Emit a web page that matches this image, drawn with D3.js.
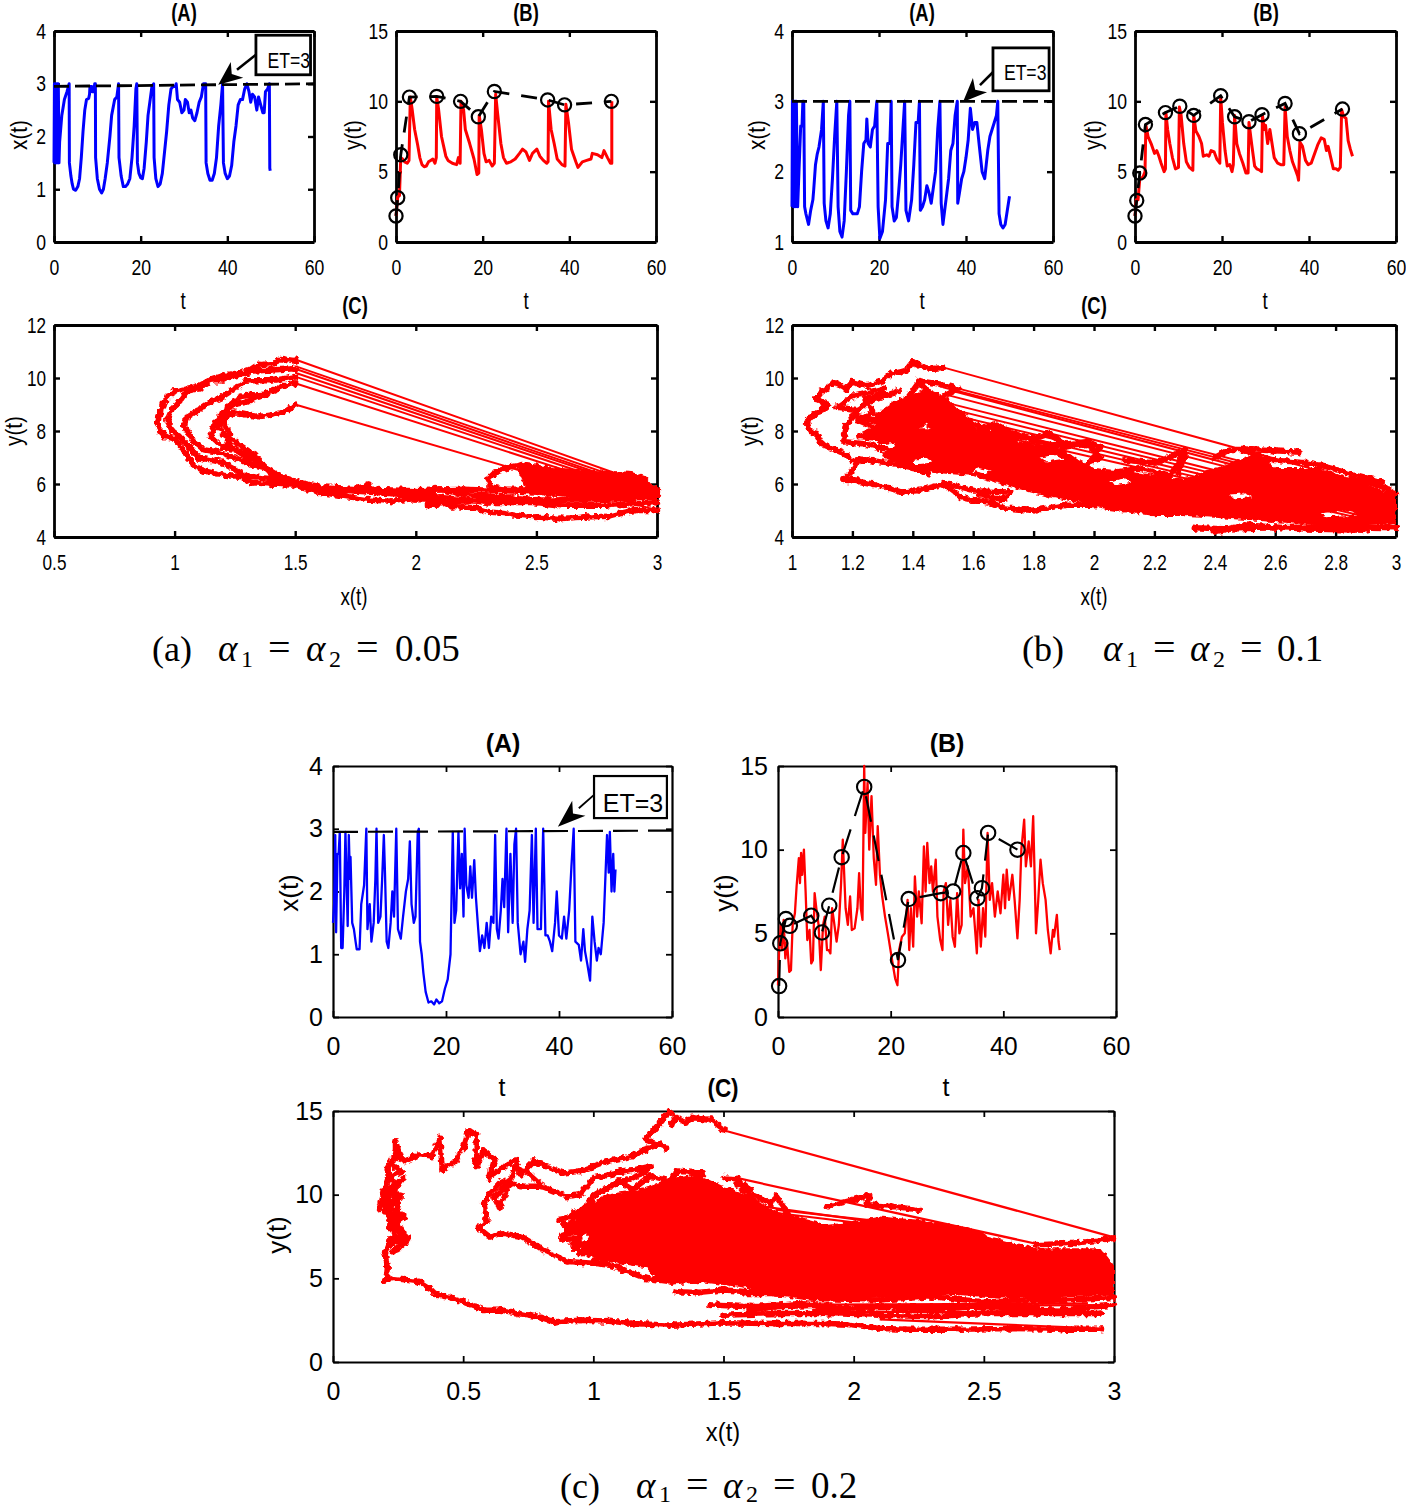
<!DOCTYPE html>
<html><head><meta charset="utf-8">
<script src="https://cdn.jsdelivr.net/npm/d3@7"></script>
<style>html,body{margin:0;padding:0;background:#fff}svg{display:block}</style>
</head><body><svg id="c" width="1406" height="1509"></svg>
<script>
// ---------- data: panel (a), alpha = 0.05 ----------
const aXT=[0,1.5,.1,3,.2,1.5,.3,3,.45,1.6,.55,3,.7,1.5,.8,3,.9,1.55,1,3,1.15,1.5,1.3,1.9,1.8,2.4,2.4,2.7,3,2.85,3.5,3,3.55,1.5,3.9,1.25,4.2,1.1,4.5,1,5,.98,5.5,1.05,5.9,1.2,6.3,1.6,6.7,2.1,7.1,2.5,7.5,2.7,8,2.72,8.2,2.8,8.3,2.95,8.7,2.95,8.8,2.85,9.2,2.85,9.4,3,9.55,3,9.6,1.6,10,1.2,10.5,1,11,.93,11.4,1,11.8,1.2,12.3,1.5,12.9,2,13.3,2.4,14,2.7,14.5,2.75,14.9,3,15,1.6,15.5,1.25,16,1.05,16.5,1.05,17,1.1,17.5,1.2,18,1.6,18.5,2.2,18.9,2.9,19.1,3,19.25,1.5,19.6,1.3,20,1.22,20.4,1.2,20.8,1.4,21.3,1.9,21.7,2.4,22.2,2.7,22.6,2.95,23,3,23.1,1.6,23.5,1.2,24,1.05,24.5,1.1,25,1.3,25.5,1.7,26,2.1,26.5,2.6,27,2.9,27.5,2.95,28,2.95,28.2,3,28.5,2.7,29,2.65,29.5,2.45,30,2.5,30.3,2.7,30.8,2.65,31.2,2.45,31.6,2.5,32,2.35,32.5,2.3,33,2.45,33.5,2.65,34,2.75,34.5,3,35,3,35.1,1.5,35.5,1.3,36,1.17,36.5,1.17,37,1.3,37.5,1.6,38,2.2,38.5,2.6,38.9,3,39.1,1.5,39.5,1.3,40,1.2,40.5,1.25,41,1.45,41.5,1.9,42,2.2,42.5,2.6,43,2.7,43.5,2.7,44,2.9,44.5,3,45,2.85,45.4,2.65,45.8,2.8,46.3,2.75,46.8,2.5,47.2,2.75,47.7,2.6,48.2,2.45,48.5,2.45,48.8,2.85,49.3,2.9,49.7,3,49.8,1.4,49.9,1.35];
const aYT=[0,1.85,.4,3.2,.8,3.3,1.1,6,1.5,5.9,2,5.7,2.6,5.6,3,5.8,3.3,10.3,3.7,9.5,4.3,8,5,6.9,5.5,6,6,5.5,6.5,5.35,7,5.4,7.5,5.7,8,5.8,8.5,5.9,9,5.6,9.3,6,9.4,10.3,9.8,9.5,10.5,7.5,11,6.8,11.5,6.1,12,5.8,13,5.6,14,5.5,14.4,6,14.8,5.6,15,10,15.6,9.4,16,8,17,7,18,5.9,18.7,4.8,19.1,4.9,19.2,9,19.7,8,20.3,6.3,20.8,5.7,21.5,5.8,22.2,5.4,22.7,5.6,23,10.5,23.5,9,24.2,7,24.8,6,25.5,5.6,26.5,5.7,27.5,5.9,28.5,6.3,29.2,6.6,30,6.4,30.8,5.8,31.5,6.3,32.5,6.6,33.2,6.1,34,5.8,34.8,5.6,35.1,5.7,35.2,10,35.8,8,36.5,7,37.2,5.9,38.3,5.5,39,5.4,39.2,9.8,39.8,8.5,40.5,6.6,41.5,5.7,42,5.3,43,5.7,44,5.8,45,5.9,45.3,6.3,46.5,6.2,47.5,6,48,6.5,48.8,6,49.5,5.6,49.8,5.6,49.8,10];
const aEvents=[0,1.85,.4,3.15,1.1,6.2,3.1,10.3,9.4,10.35,14.9,10,19,8.9,22.7,10.7,35,10.1,38.9,9.75,49.7,10];
const aEt=[0,2.95,60,3];
const aJumps=[[1.5,10.7,3,5.85],[1.5,10.45,3,5.75],[1.5,10.35,3,5.65],[1.5,10.2,3,5.6],[1.5,10.05,3,5.5],[1.5,9.8,3,5.4],[1.5,9,3,5]];
const aArcs=[
[1.5,10.65,1.45,10.72,1.41,10.55,1.35,10.5,1.3,10.2,1.25,10.1,1.2,10.1,1.15,9.95,1.1,9.7,1.05,9.6,1,9.5,.97,9.3,.95,9,.94,8.7,.93,8.3,.94,8,.96,7.8,1,7.7,1.02,7.5,1.04,7.2,1.06,7,1.08,6.7,1.12,6.5,1.17,6.4,1.22,6.3,1.27,6.3,1.32,6.05,1.4,6,1.5,5.95,1.6,5.7,1.7,5.55,1.8,5.4,1.9,5.35,2,5.45,2.1,5.4,2.15,5.15,2.25,5.1,2.3,4.95,2.4,4.85,2.5,4.75,2.6,4.7,2.7,4.75,2.8,4.78,2.85,4.9,2.9,5,3,5],
[1.5,10.35,1.4,10.3,1.3,10.25,1.25,10.15,1.2,9.9,1.15,9.9,1.1,9.6,1.05,9.5,1.02,9.1,.99,8.8,.97,8.4,.99,8,1.02,7.8,1.06,7.4,1.1,7,1.15,6.9,1.2,6.8,1.3,6.3,1.4,6.2,1.5,6,1.6,5.8,1.7,5.7,1.8,5.95,1.85,5.7,1.95,5.6,2,5.6,2.1,5.8,2.2,5.6,2.4,5.5,2.5,5.4,2.7,5.4,2.9,5.45,3,5.6],
[1.5,10.05,1.4,9.9,1.3,9.9,1.25,9.6,1.2,9.3,1.15,9.1,1.1,8.8,1.05,8.5,1.04,8.2,1.06,7.9,1.08,7.6,1.12,7.3,1.18,7.2,1.25,7,1.3,6.8,1.38,6.6,1.45,6.2,1.55,5.95,1.65,5.8,1.8,5.7,1.95,5.6,2.1,5.5,2.3,5.3,2.5,5.3,2.7,5.5,2.9,5.6,3,5.7],
[1.5,9.8,1.45,9.7,1.4,9.5,1.35,9.3,1.3,9.1,1.25,9,1.2,8.7,1.17,8.3,1.15,7.8,1.2,7.4,1.25,7.3,1.3,7.1,1.35,6.9,1.4,6.4,1.5,6.1,1.6,5.9,1.8,5.8,2,5.75,2.2,5.8,2.5,5.7,2.7,5.7,3,5.8],
[1.5,9,1.45,8.7,1.4,8.6,1.35,8.55,1.3,8.6,1.25,8.7,1.21,8.55,1.21,8.2,1.23,7.9,1.22,7.5,1.25,7.3,1.3,7,1.34,6.9,1.38,6.6],
[1.38,9.4,1.32,9.35,1.27,9.3,1.22,8.9,1.21,8.5,1.18,8.2,1.2,7.9,1.25,7.6,1.33,7.1],
[2.08,5.85,2.05,5.2,2.2,5.35,2.35,5.45,2.6,5.2,2.8,5.2,3,5.3],
[2.44,6.72,2.38,6.62,2.33,6.45,2.3,6.2,2.31,5.9,2.36,5.8,2.44,5.8,2.5,5.8,2.55,5.6]
];
const aBlobs=[[2.42,6.55,2.45,6.8,2.6,6.6,2.8,6.5,2.9,6.45,2.95,6.3,2.98,6,3,5.7,3,5.4,2.8,5.4,2.5,5.6,2.45,5.9,2.44,6.15]];
const aHoles=[];
// ---------- data: panel (b), alpha = 0.1 ----------
const bXT=[0,1.5,.1,3,.3,1.5,.4,3,.6,1.5,.7,3,.9,1.5,1,3,1.3,1.5,1.6,2,2,2.65,2.3,2.65,2.5,3,2.7,3,2.9,1.5,3.2,1.4,3.8,1.25,4.3,1.45,4.8,1.6,5,1.75,5.4,2.1,5.8,2.25,6.2,2.35,6.8,2.6,7.2,3,7.4,1.55,7.8,1.3,8.3,1.2,8.8,1.4,9.3,1.9,9.8,2.5,10.3,3,10.6,1.5,11,1.15,11.5,1.07,12,1.3,12.5,2,13,2.8,13.3,3,13.5,1.45,14,1.4,15,1.4,15.5,1.5,16,2,16.5,2.4,17,2.45,17.2,2.75,17.5,2.4,18,2.35,18.5,2.6,19,2.65,19.5,3,19.8,1.5,20.2,1.05,20.8,1.15,21.5,1.6,22,2.4,22.5,2.4,22.8,3,23,1.5,23.5,1.3,24,1.35,24.5,1.7,25,2.1,25.5,2.6,25.9,3,26.2,1.45,26.8,1.3,27.5,1.6,28,2.1,28.5,2.7,29,2.7,29.3,3,29.5,1.45,30,1.5,30.5,1.6,31,1.8,31.5,1.7,32,1.55,33,2,33.5,2.6,34,3,34.3,1.55,34.7,1.25,35.2,1.5,36,1.9,36.5,2.3,37,2.4,37.5,2.8,38,3,38.1,1.55,38.5,1.7,39,1.9,39.5,2,40,2.2,40.5,2.45,41,2.9,41.5,2.6,42,2.7,42.5,2.7,43,2.4,43.7,2,44.3,1.9,45,2.3,45.5,2.5,46,2.6,46.5,2.7,47,2.8,47.3,3,47.6,1.4,48,1.25,48.5,1.2,49,1.25,49.5,1.45,50,1.65];
const bYT=[0,1.85,.3,3,.7,3,1.1,4.5,1.8,4.6,2.3,5,2.5,8.3,3,7.5,3.7,7,4.5,6.3,5,6.5,5.5,6.1,6,5.6,6.7,5,7,5.2,7.1,9.2,7.5,8,8,7,8.6,6,9.3,5.2,10,5.3,10.2,9.6,10.6,9,11.2,7,11.8,5.7,12.5,5.3,13.3,5.1,13.5,9,14,7.9,14.7,7.5,15.3,7,15.7,6.1,16.5,6.2,17,6.1,17.5,6.5,18.2,6.4,18.8,5.9,19.5,5.6,19.7,10.3,20.1,8.5,20.7,6.5,21.2,5.4,21.8,5.5,22.3,5,22.6,5.5,22.9,9,23.4,7,24,6.3,24.8,5.6,25.5,4.9,26,4.9,26.2,8.5,26.8,7,27.5,5.4,28,5.2,28.7,5.1,29.1,5,29.3,9,29.7,8,30,8.3,30.5,7,31,8,31.5,7,32,6,32.8,5.6,33.5,5.5,34.2,5.5,34.5,9.6,35,7.5,35.6,6.5,36.2,5.7,36.8,5.2,37.4,4.7,37.6,4.4,37.9,7.1,38.5,6.8,39.2,5.8,39.8,5.5,40.5,5.6,41.3,6.3,42,6.9,42.8,7.4,43.5,7.3,44,6.5,44.4,6.8,45,6,45.6,5.2,46.2,5.2,46.7,5.1,47.2,5.3,47.5,9.4,48,8.9,48.5,8.8,49,7.2,49.5,6.6,50,6.1];
const bEvents=[0,1.85,.4,2.95,1.1,4.9,2.4,8.35,7,9.2,10.3,9.65,13.5,9,19.7,10.4,22.9,8.9,26.2,8.55,29.2,9.05,34.5,9.85,37.8,7.7,47.7,9.45];
const bEt=[0,3,60,3];
const bJumps=[[1.5,10.4,3,5.7],[1.5,9.75,3,5.35],[1.5,9.65,3,5.25],[1.52,9.55,3,5.1],[1.5,9.4,3,5],[1.5,9.1,3,4.8],[1.5,8.9,3,4.7],[1.5,8.7,3,4.6],[1.5,8.5,3,4.5],[1.5,8.3,3,4.4]];
const bArcs=[
[1.5,10.4,1.47,10.35,1.44,10.4,1.4,10.6,1.38,10.3,1.35,10.2,1.33,10.2,1.3,9.9,1.25,9.7,1.2,9.85,1.18,9.6,1.14,9.8,1.1,9.5,1.08,9.2,1.12,9,1.1,8.8,1.06,8.5,1.05,8.3,1.06,8,1.08,7.9,1.1,7.5,1.14,7.3,1.18,7.1,1.2,6.9,1.25,6.9,1.32,6.8,1.4,6.6,1.45,6.4],
[1.22,6.9,1.2,6.5,1.17,6.15,1.22,6.1,1.27,6,1.32,5.85,1.36,5.7,1.42,5.75,1.5,6,1.56,5.5,1.6,5.4,1.66,5.3,1.7,5.1,1.8,5,1.9,5.2,2,5.2,2.1,5.05,2.2,4.9,2.3,4.9],
[1.3,9.6,1.2,9.3,1.15,8.9,1.22,8.8,1.18,8.2,1.17,7.6,1.25,7.5,1.35,7.2],
[1.35,9.5,1.25,9.1,1.2,8.6,1.3,8.3,1.26,7.8,1.35,7.8,1.32,8.4],
[1.3,9.4,1.24,9.2,1.27,8.7,1.22,8.4,1.28,8.1,1.22,7.8,1.3,7.7],
[1.42,9.9,1.5,9.75,1.55,9.6,1.5,9.3],
[1.38,9.2,1.42,9.85,1.45,9.5],
[1.62,8.15,1.68,8.25,1.72,8,1.8,7.7,1.85,7.9,1.9,7.5],
[1.9,7.5,1.98,7.6,2.02,7.4,2,7],
[2.1,6.9,2.2,6.8,2.25,7,2.3,7.3,2.28,6.8],
[2.5,7.3,2.55,7,2.6,6.9,2.7,6.8,2.75,6.7,2.85,6.4,2.95,6.1],
[2.68,7.2,2.6,7.25,2.5,7.3,2.45,7.3,2.4,7],
[2.33,4.35,2.45,4.3,2.6,4.35,2.8,4.4,3,4.35],
[2.4,4.2,2.5,4.45,2.7,4.3,2.9,4.25],
[1.55,8.7,1.65,7.9,1.68,8.2,1.72,7.8,1.75,7.8,1.8,7.6,1.9,7.4,1.98,7.5,2.02,7,1.98,6.8],
[1.7,6.5,1.85,6.7,1.95,6.2,2.15,6.6,2.25,6.3,2.3,7.1,2.28,6.4],
[2.85,6.2,2.95,5.95,3,5.6],
[1.52,6,1.6,5.75,1.72,5.7,1.7,5.4,1.62,5.6]
];
const bBlobs=[[1.27,8.6,1.35,9.2,1.45,9.6,1.52,9.2,1.58,8.4,1.62,8,1.72,8.1,1.75,7.6,1.9,7.3,1.95,6.9,2,6.6,2.1,6.5,2.3,6.2,2.45,6.8,2.55,7.2,2.6,6.6,2.75,6.6,2.85,6.2,3,5.6,3,4.5,2.8,4.4,2.55,4.6,2.3,4.8,2.15,5,2,5.2,1.85,5.5,1.75,5.8,1.6,6.3,1.5,6.4,1.4,6.6,1.3,7,1.28,7.8]];
const bHoles=[[1.29,7.5,1.34,7.55,1.33,7.25,1.3,7.2],[1.62,6.6,1.66,6.5,1.64,6.4,1.6,6.5],[2.05,6.1,2.1,6.2,2.12,6.05,2.07,5.95],[1.4,6.9,1.45,7,1.46,6.8,1.41,6.75],[1.42,8.1,1.44,8.25,1.46,8.1],[1.82,7,1.88,7.1,1.9,6.95,1.84,6.85],[2.45,5.6,2.5,5.65,2.52,5.5,2.46,5.45],[2.75,4.9,2.85,5,2.87,4.85,2.77,4.78]];
// ---------- data: panel (c), alpha = 0.2 ----------
const cXT=[0,1.5,.2,1.8,.4,2.9,.55,1.35,.8,2.6,1,2.6,1.2,2.95,1.45,1.1,1.7,1.1,2,2,2.2,2.95,2.6,1.45,2.8,2.9,3,2.2,3.1,2.55,3.4,1.5,3.7,1.4,4,1.2,4.2,1.08,4.7,1.08,5,1.8,5.5,2.1,5.9,3,6.1,1.4,6.5,1.8,6.8,1.2,7.2,1.5,7.5,2.2,7.7,3,8,1.5,8.4,1.6,8.7,2.2,9,2.9,9.2,2.3,9.5,1.2,9.8,1.1,10.2,1.5,10.5,2,10.8,1.6,11.2,3,11.5,1.4,12,1.25,12.4,1.6,12.9,2,13.3,2.2,13.6,2.8,13.9,1.8,14.3,1.5,14.6,1.6,15,2.95,15.2,3,15.4,1.2,15.7,1,16,.7,16.4,.4,16.9,.23,17.4,.25,17.9,.2,18.3,.28,18.8,.22,19.3,.25,19.8,.45,20.3,.6,20.8,1,21,2,21.2,2.95,21.5,1.5,21.8,1.7,22.2,2.95,22.5,2.05,22.8,2.6,23.1,1.6,23.3,3,23.6,2.1,24,1.9,24.3,2.4,24.6,1.9,25,2.5,25.3,1.9,25.7,1.4,26,1.05,26.4,1.3,26.8,1.1,27.2,1.5,27.6,1.1,28,1.6,28.4,1.5,28.7,2.9,29,1.4,29.3,1.25,29.7,1.7,30,2.2,30.3,1.75,30.7,3,31,1.35,31.4,2.6,31.8,1.5,32.1,2.75,32.4,3,32.7,1.5,33.2,1,33.7,1.2,34,.88,34.4,1.4,34.8,1.7,35.2,2.9,35.5,1.5,35.9,3,36.2,1.4,36.8,1.4,37.2,3,37.6,1.3,38,1.3,38.4,1.2,38.8,1.05,39.3,1.5,39.6,2,40,1.3,40.5,1.25,40.9,1.6,41.3,1.25,41.8,1.7,42.2,2.4,42.6,3,42.9,1.2,43.5,1.15,43.9,.9,44.3,1.4,44.6,1.05,45,.85,45.5,.58,45.9,1.6,46.3,1.2,46.7,.9,47,1.1,47.4,1,47.9,1.5,48.5,2.9,48.8,2.3,49,2.95,49.3,2,49.6,2.6,49.8,2,50,2.35];
const cYT=[0,1.9,.2,4,.5,5.5,.7,4,1,5.8,1.3,3.5,1.6,4.5,2,2.7,2.3,2.8,2.6,5.5,3,6.2,3.3,7.8,3.7,9.5,3.9,8,4.1,9.8,4.3,8.5,4.6,10,4.9,7.5,5.2,4.6,5.6,5.2,5.9,3.2,6.2,3.4,6.5,7.4,6.8,6.5,7.2,5.5,7.6,2.8,8,5.5,8.3,6,8.7,4,9,4,9.3,3.8,9.6,6.5,9.9,5.8,10.4,4.5,10.8,5.5,11.2,8,11.5,10.6,12,6.5,12.4,5.5,12.8,7.2,13.1,5.2,13.6,5.3,14.1,6.5,14.4,8.6,14.7,6.5,15,5.8,15.3,15,15.5,11,15.9,14,16.2,10,16.6,13.2,17,9.5,17.4,7.9,17.7,11.4,18.1,8.5,18.5,7.2,19,6,19.5,5,20.2,3.5,20.8,2.3,21.2,1.9,21.5,4,22,4.8,22.5,5,23,7,23.3,4,23.6,6.5,24,4.2,24.3,8.4,24.7,6,25,7.5,25.5,5.6,25.9,10.2,26.2,7.5,26.5,10.4,26.9,8,27.2,9,27.5,7.5,28,9.4,28.3,6,28.8,4.6,29.2,4,29.4,7.5,29.8,8,30.2,5.5,30.6,7,31,4.8,31.4,4.2,31.8,7.4,32.2,5,32.6,5.5,32.9,11.2,33.2,8,33.7,9,34.2,6,34.7,6.5,35.3,3.8,35.6,7,36,4.2,36.4,6.5,36.8,4.8,37.2,11,37.6,7,38,8,38.5,6,39,7.5,39.5,6.2,40,8.5,40.3,6.5,40.6,8.8,41,7,41.6,8.5,42,7,42.5,4.7,42.9,7,43.2,10,43.7,11.8,44,9,44.5,10.5,44.9,9,45.3,12,45.8,5,46.2,7,46.6,9.4,47,8,47.5,7,47.9,5.2,48.4,3.8,48.8,5.2,49,4.8,49.5,6.1,49.8,4.5,50,4];
const cEvents=[.2,1.85,.4,4.4,1.4,5.85,2.1,5.45,5.9,6.05,7.8,5.05,9.1,6.65,11.3,9.55,15.3,13.75,21.3,3.4,23.2,7.05,28.9,7.4,31.1,7.5,32.9,9.8,35.4,7.1,36.2,7.7,37.3,11,42.5,10];
const cEt=[0,2.95,60,2.97];
const cJumps=[[1.5,13.85,3,7.45],[1.55,11,2.75,6.9],[1.6,9.4,2.3,7.9],[1.6,9.1,2.5,7.4],[1.7,9.1,2.4,7.9],[2,3.35,3,3.4],[1.9,3,2.95,3],[2.1,2.55,2.95,2],[2.5,3.6,3,4.2],[1.5,3.4,2.9,3.5]];
const cArcs=[
[2.95,1.95,2.8,1.95,2.6,2,2.4,1.95,2.2,1.95,2.1,2,1.98,2.25,1.9,2.3,1.8,2.3,1.7,2.3,1.5,2.35,1.3,2.2,1.15,2.3,1.05,2.45,.95,2.5,.85,2.4,.8,2.65,.72,2.9,.65,3.1,.58,3.1,.55,3.3,.5,3.6,.45,3.85,.4,4,.37,4.4,.33,4.8,.28,4.9,.22,5,.2,4.85,.21,5.5,.2,6.5,.22,7.3,.28,7.2,.25,6.8,.27,7.7,.24,8.5,.25,9.5,.24,10.5,.2,9.8,.18,9.2,.2,10.4,.22,11,.21,11.5,.24,12.5,.24,13.2,.26,12.2,.28,12,.33,12.4,.38,12.3,.41,13.4,.42,11.5,.47,12,.5,12.8,.52,13.8,.55,13.6,.55,11.7,.58,12.6,.62,12.1,.6,11,.65,11.6,.7,12.1,.72,11.2,.77,12,.82,11.7,.88,11.3,.95,11.4,1,11.7,1.05,12,1.15,12.3,1.2,12.7,1.25,13,1.28,12.8,1.2,13.3,1.25,14.2,1.29,14.95,1.35,14.3,1.38,14.6,1.45,14.5,1.5,13.9],
[1.3,14.2,1.32,14.6],
[.22,8,.27,8.6,.2,9,.26,10,.22,10.2,.27,11,.2,9.5,.24,7.5,.29,7.4,.23,6.6],
[.22,7,.27,7.6,.22,8.2,.27,8.8,.2,9.4,.26,9.8,.19,10.2,.25,10.6,.21,11,.26,11.4,.22,11.9,.25,12.3],
[1.22,11.7,1.1,11.3,1,11,.95,10,.9,9.9,.8,10.5,.72,10.5,.65,10.8,.6,10,.58,9.5,.59,8.5,.56,8,.6,7.5,.65,7.7,.72,7.5,.78,7,.82,6.6,.9,6,1,5.9,1.1,5.7],
[.68,10.9,.62,9.8,.64,9.2,.7,11.6,.75,11.3,.8,10.6],
[1.05,5.9,1.1,5.6,1.2,5,1.3,4.8,1.4,4.9],
[1.32,4.2,1.4,4.15,1.5,4.3,1.6,4.2,1.7,4.5],
[1.45,3.4,1.6,3.3,1.8,3.5,2,3.2,2.2,3.3,2.4,3.3,2.6,3.2,2.8,3.1,3,3.4],
[1.5,2.8,1.7,2.9,1.9,2.9,2.1,2.8,2.3,2.7,2.5,2.9,2.7,2.9,2.95,2.9],
[1.6,3.1,1.7,3.3,1.9,3.4,1.85,3,2.1,3.3,2.3,3.05,2.5,3.4,2.7,3.3],
[1.58,4.1,1.7,4.1,1.85,3.8,2.1,3.7,2.3,3.9,2.5,3.6,2.8,3.7,3,3.85],
[2.7,7,2.85,7.1,2.95,7.3,3,7.4],
[1.9,9.3,2,9.7,2.06,9.95,2.05,9.4,2.15,9.3,2.25,9.1],
[1.5,11,1.55,10.95,1.6,10.3],
[.87,8.5,.95,8.9,.9,8.1,.97,8.2,.88,7.6,.96,7.8,.92,7,1,7.1,.95,6.5,1.05,6.4,1,6],
[1,9.9,1.1,10.8,1.15,10.3,1.22,11.1,1.3,10.8,1.32,11.4,1.42,11.3,1.4,10.9],
[.97,9.3,.93,8.9,1,9.5],
[1.55,10.6,1.6,10.1,1.68,9.5,1.7,9.9,1.75,8.9],
[.88,8.5,.9,7.8,.88,7.3,.95,7.4,.93,6.7,1,6.5,1.05,5.9],
[.95,8.8,1,9.9,1.05,10.4,1.2,11.3,1.21,11.6,1.1,11.4],
[2.3,8.2,2.4,8,2.5,7.5]
];
const cBlobs=[[.93,8.3,.98,9.4,1.05,10,1.2,10.4,1.3,11,1.4,11.2,1.5,10.5,1.6,10,1.7,9,1.8,8.6,1.9,8.2,2,8.4,2.1,8.7,2.25,8.5,2.4,8,2.5,7.6,2.7,6.8,2.95,6.8,3,5.8,3,4,2.8,3.9,2.6,3.8,2.4,4,2,3.8,1.7,3.9,1.6,4.4,1.4,4.8,1.25,4.9,1.2,5.6,1.1,5.9,1,6.2,.95,6.7,.98,7.5]];
const cHoles=[];
// ---------- labels ----------
const tTicks=[0,20,40,60];
const xTicks04=[0,1,2,3,4];
const xTicks14=[1,2,3,4];
const yTicks15=[0,5,10,15];
const phaseXa=[.5,1,1.5,2,2.5,3];
const phaseXb=[1,1.2,1.4,1.6,1.8,2,2.2,2.4,2.6,2.8,3];
const phaseYa=[4,6,8,10,12];
const phaseYc=[0,5,10,15];
const phaseXc=[0,.5,1,1.5,2,2.5,3];
const titleA="(A)", titleB="(B)", titleC="(C)", etLabel="ET=3", xName="x(t)", yName="y(t)", tName="t";

const svg=d3.select("#c");
const defs=svg.append("defs");
const flt=defs.append("filter").attr("id","rough").attr("x","-3%").attr("y","-3%").attr("width","106%").attr("height","106%")
  .attr("color-interpolation-filters","sRGB");
flt.append("feTurbulence").attr("type","fractalNoise").attr("baseFrequency",0.2).attr("numOctaves",2).attr("seed",4).attr("result","n");
flt.append("feDisplacementMap").attr("in","SourceGraphic").attr("in2","n").attr("scale",6).attr("xChannelSelector","R").attr("yChannelSelector","G");

const pairUp=a=>d3.range(0,a.length,2).map(i=>[a[i],a[i+1]]);
const FONT="Liberation Sans, Arial, sans-serif";

function label(x,y,txt,o={}){
  const sx=o.sx||1, rot=o.rot||0;
  svg.append("text").attr("transform",`translate(${x},${y}) rotate(${rot}) scale(${sx},1)`)
    .attr("text-anchor","middle").attr("dominant-baseline","central")
    .attr("font-family",FONT).attr("font-size",o.fs||20).attr("font-weight",o.bold?"bold":"normal")
    .attr("fill","#000").text(txt);
}
function frame(b,xd,yd,xt,yt,s){
  const x=d3.scaleLinear().domain(xd).range([b.l,b.r]);
  const y=d3.scaleLinear().domain(yd).range([b.b,b.t]);
  const g=svg.append("g");
  const put=(ax,tx,ty,lab)=>{
    const a=g.append("g").attr("transform",`translate(${tx},${ty})`)
      .call(ax.tickSizeOuter(0));
    a.select(".domain").attr("stroke","#000").attr("stroke-width",s.sw);
    a.selectAll("line").attr("stroke","#000").attr("stroke-width",s.tw);
    a.selectAll("text").attr("font-family",FONT).attr("font-size",s.fs).attr("fill","#000");
    if(!lab) a.selectAll("text").remove();
    return a;
  };
  const L=s.tl;
  const ab=put(d3.axisBottom(x).tickValues(xt).tickFormat(d3.format("~g")).tickSize(-L).tickPadding(s.xpad),0,b.b,true);
  ab.selectAll("text").attr("transform",`scale(${s.sx},1)`);
  const al=put(d3.axisLeft(y).tickValues(yt).tickFormat(d3.format("~g")).tickSize(-L).tickPadding(s.ypad),b.l,0,true);
  al.selectAll("text").attr("x",-s.ypad/s.sx).attr("transform",`scale(${s.sx},1)`);
  put(d3.axisTop(x).tickValues(xt).tickSize(-L),0,b.t,false);
  put(d3.axisRight(y).tickValues(yt).tickSize(-L),b.r,0,false);
  return {x,y,g};
}
const lineOf=(f)=>d3.line().x(d=>f.x(d[0])).y(d=>f.y(d[1]));

function seriesPanel(b,yd,yt,vals,color,s,extra){
  const f=frame(b,[0,60],yd,tTicks,yt,s);
  const l=lineOf(f);
  f.g.append("path").datum(pairUp(vals)).attr("d",l).attr("fill","none")
    .attr("stroke",color).attr("stroke-width",s.lw).attr("stroke-linejoin","round");
  if(extra.et){
    f.g.append("path").datum(pairUp(extra.et)).attr("d",l).attr("fill","none")
      .attr("stroke","#000").attr("stroke-width",s.dw).attr("stroke-dasharray",s.etDash);
    const an=extra.ann;
    const bx=f.x(an.box[0]),by=f.y(an.box[1]),bw=f.x(an.box[2])-bx,bh=f.y(an.box[3])-by;
    const fromX=f.x(an.from[0]),fromY=f.y(an.from[1]),toX=f.x(an.to[0]),toY=f.y(an.to[1]);
    const ang=Math.atan2(toY-fromY,toX-fromX),hl=s.hl,hw=s.hw;
    const nx=toX-hl*Math.cos(ang),ny=toY-hl*Math.sin(ang);
    f.g.append("line").attr("x1",fromX).attr("y1",fromY).attr("x2",nx).attr("y2",ny)
      .attr("stroke","#000").attr("stroke-width",s.aw);
    f.g.append("path").attr("fill","#000").attr("d",
      `M${toX},${toY}L${nx-hw*Math.sin(ang)},${ny+hw*Math.cos(ang)}L${toX-hl*.72*Math.cos(ang)},${toY-hl*.72*Math.sin(ang)}L${nx+hw*Math.sin(ang)},${ny-hw*Math.cos(ang)}Z`);
    f.g.append("rect").attr("x",bx).attr("y",by).attr("width",bw).attr("height",bh)
      .attr("fill","#fff").attr("stroke","#000").attr("stroke-width",s.bw);
    f.g.append("text").attr("transform",`translate(${f.x(an.txt[0])},${f.y(an.txt[1])}) scale(${s.sx},1)`)
      .attr("text-anchor","middle").attr("dominant-baseline","central")
      .attr("font-family",FONT).attr("font-size",s.fs).text(etLabel);
  }
  if(extra.events){
    const p=pairUp(extra.events);
    f.g.append("path").datum(p).attr("d",l).attr("fill","none")
      .attr("stroke","#000").attr("stroke-width",s.dw).attr("stroke-dasharray",s.evDash);
    f.g.selectAll("circle.e").data(p).join("circle").attr("class","e")
      .attr("cx",d=>f.x(d[0])).attr("cy",d=>f.y(d[1])).attr("r",s.r)
      .attr("fill","none").attr("stroke","#000").attr("stroke-width",s.cw);
  }
}
function phasePanel(b,xd,yd,xt,yt,arcs,jumps,blobs,holes,s){
  const f=frame(b,xd,yd,xt,yt,s);
  const l=lineOf(f);
  const red="#ff0000";
  jumps.forEach(j=>{
    f.g.append("path").datum(pairUp(j)).attr("d",l).attr("fill","none")
      .attr("stroke",red).attr("stroke-width",s.jw);
  });
  const rough=f.g.append("g").attr("filter","url(#rough)");
  blobs.forEach(bl=>{
    const pts=pairUp(bl);
    let d=l(pts)+"Z";
    holes.forEach(h=>{d+=l(pairUp(h))+"Z";});
    rough.append("path").attr("d",d).attr("fill",red).attr("fill-rule","evenodd")
      .attr("stroke","none");
  });
  arcs.forEach(a=>{
    const pts=pairUp(a);
    rough.append("path").datum(pts).attr("d",l).attr("fill","none").attr("stroke",red)
      .attr("stroke-width",s.aw2).attr("stroke-linejoin","round").attr("stroke-linecap","round");
    rough.append("g").selectAll("circle").data(pts).join("circle")
      .attr("cx",d=>f.x(d[0])).attr("cy",d=>f.y(d[1])).attr("r",s.dot).attr("fill",red);
  });
}

const small={sw:2.8,tw:2.4,fs:22,sx:.8,tl:6,xpad:17,ypad:8,lw:3,dw:2.8,etDash:"15 6",evDash:"16 12",r:6.6,cw:2.2,hl:24,hw:10,aw:2.6,bw:2.8};
const smallC=Object.assign({},small,{sx:.78,jw:2,aw2:5.5,dot:3.2});
const big={sw:2.2,tw:1.8,fs:25,sx:1,tl:6,xpad:20,ypad:10,lw:2.3,dw:2.2,etDash:"25 10",evDash:"26 14",r:7.2,cw:2.1,hl:28,hw:10,aw:1.9,bw:2.2};
const bigC=Object.assign({},big,{jw:2.2,aw2:5.5,dot:3.2});

// panel (a)
seriesPanel({l:54,r:314,t:31,b:242},[0,4],xTicks04,aXT,"#0000ff",small,{et:aEt,ann:{box:[46.6,3.92,59.2,3.17],from:[46.6,3.55],to:[37.9,2.98],txt:[54.2,3.45]}});
seriesPanel({l:396,r:656,t:31,b:242},[0,15],yTicks15,aYT,"#ff0000",small,{events:aEvents});
phasePanel({l:54,r:657,t:325,b:537},[.5,3],[4,12],phaseXa,phaseYa,aArcs,aJumps,aBlobs,aHoles,smallC);
// panel (b)
seriesPanel({l:792,r:1053,t:31,b:242},[1,4],xTicks14,bXT,"#0000ff",small,{et:bEt,ann:{box:[46.2,3.76,59.1,3.15],from:[47.1,3.47],to:[39.3,2.99],txt:[53.6,3.42]}});
seriesPanel({l:1135,r:1396,t:31,b:242},[0,15],yTicks15,bYT,"#ff0000",small,{events:bEvents});
phasePanel({l:792,r:1396,t:325,b:537},[1,3],[4,12],phaseXb,phaseYa,bArcs,bJumps,bBlobs,bHoles,smallC);
// panel (c)
seriesPanel({l:333,r:672,t:766,b:1017},[0,4],xTicks04,cXT,"#0000ff",big,{et:cEt,ann:{box:[46.2,3.84,59.1,3.17],from:[46.2,3.54],to:[39.8,3.03],txt:[53.1,3.41]}});
seriesPanel({l:778,r:1116,t:766,b:1017},[0,15],yTicks15,cYT,"#ff0000",big,{events:cEvents});
phasePanel({l:333,r:1114,t:1111,b:1362},[0,3],[0,15],phaseXc,phaseYc,cArcs,cJumps,cBlobs,cHoles,bigC);

// titles and axis names
const sx=.82;
[[184,13,titleA],[526,13,titleB],[355,306,titleC],[922,13,titleA],[1266,13,titleB],[1094,306,titleC]]
  .forEach(t=>label(t[0],t[1],t[2],{bold:true,sx:.8,fs:23}));
[[183,301,tName],[526,301,tName],[922,301,tName],[1265,301,tName],[354,597,xName],[1094,597,xName]]
  .forEach(t=>label(t[0],t[1],t[2],{sx,fs:23}));
[[19,135,xName],[353,135,yName],[757,135,xName],[1093,135,yName],[14,431,yName],[750,431,yName]]
  .forEach(t=>label(t[0],t[1],t[2],{sx:.9,fs:23,rot:-90}));
[[503,743,titleA],[947,743,titleB],[723,1088,titleC]].forEach(t=>label(t[0],t[1],t[2],{bold:true,fs:25,sx:t[2]===titleC?.9:1}));
[[502,1087,tName],[946,1087,tName],[723,1432,xName]].forEach(t=>label(t[0],t[1],t[2],{fs:25,sx:t[2]===xName?.95:1}));
[[289,893,xName],[724,893,yName],[277,1235,yName]].forEach(t=>label(t[0],t[1],t[2],{fs:26,rot:-90}));

// captions
function caption(y,subDy,tag,tagX,a1X,eq1X,a2X,eq2X,valX,val){
  const S="Liberation Serif, 'DejaVu Serif', serif";
  const put=(x,t,fs,dy,it)=>svg.append("text").attr("x",x).attr("y",y+dy).attr("font-family",S)
    .attr("font-size",fs).attr("font-style",it?"italic":"normal").attr("fill","#000").text(t);
  put(tagX,tag,36,0);
  put(a1X,"α",37,0,true); put(a1X+23,"1",24,subDy);
  put(eq1X,"=",40,0);
  put(a2X,"α",37,0,true); put(a2X+23,"2",24,subDy);
  put(eq2X,"=",40,0);
  put(valX,val,37,0);
}
caption(661,6,"(a)",152,218,268,306,356,395,"0.05");
caption(661,6,"(b)",1022,1103,1153,1190,1240,1277,"0.1");
caption(1498,4,"(c)",560,636,686,723,773,811,"0.2");
</script></body></html>
